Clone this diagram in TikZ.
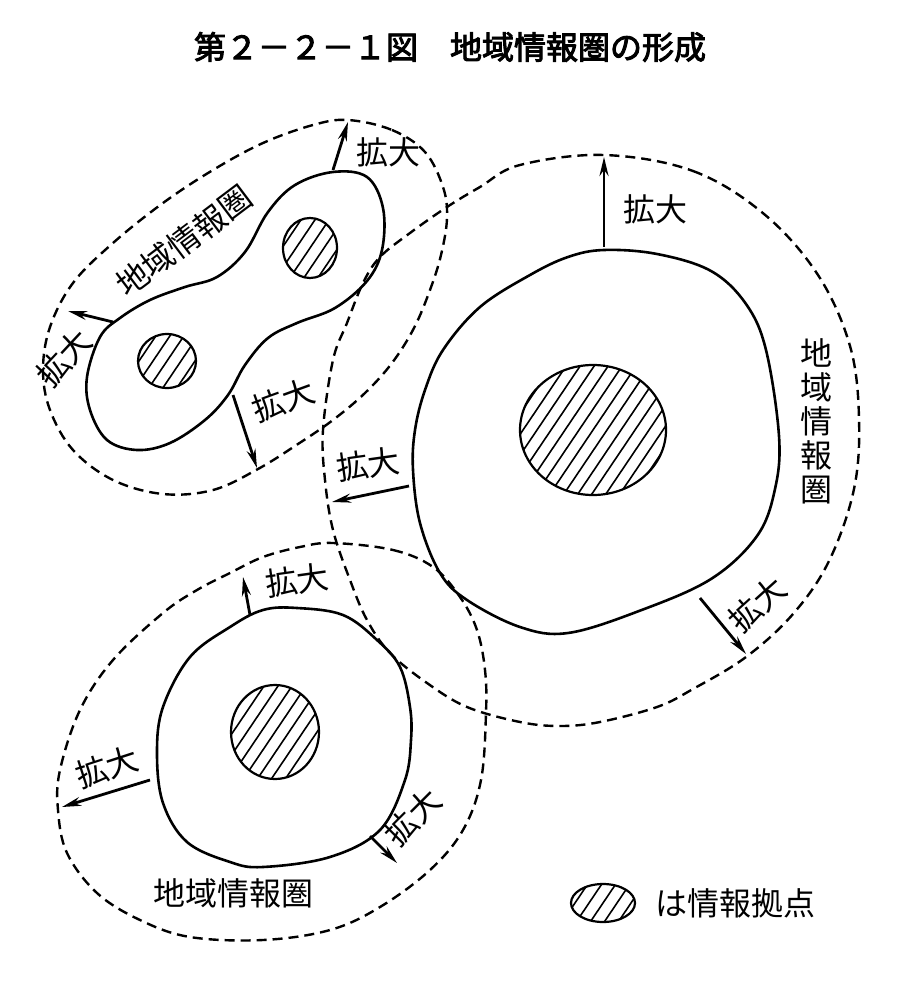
\documentclass[tikz,border=0pt]{standalone}
\usepackage{fontspec}
\setmainfont{Noto Sans CJK JP}
\newfontfamily\titlefont{Noto Sans CJK JP}[FakeBold=3]
\usepackage{tikz}
\usetikzlibrary{arrows.meta}
\tikzset{
zone/.style={
draw,
line width=2.6pt,
smooth cycle,
tension=0.6
},
reach/.style={
draw,
line width=2.4pt,
dash pattern=on 10pt off 6pt,
smooth cycle,
tension=0.6
},
spot/.style={
draw,
line width=2.2pt
},
hatch/.style={
line width=1.6pt
},
arrow/.style={
-{Stealth[length=19pt,width=9pt]},
line width=2.8pt
},
lbl/.style={
font=\fontsize{32}{34}\selectfont,
inner sep=0pt
},
headline/.style={
font=\titlefont\fontsize{32}{34}\selectfont,
inner sep=0pt
}
}

\begin{document}
\begin{tikzpicture}[x=1pt,y=-1pt]

\useasboundingbox[fill=white] (0,0) rectangle (911,981);

\node[headline](head) at (450,47){第２－２－１図　地域情報圏の形成};

% outer reach (dashed)
\draw[reach] plot coordinates {(348,120) (392,130) (425,152) (443,187) (447,218) (441,255) (430,290) (414,328) (392,363) (365,393) (333,420) (298,444) (258,469) (213,490) (163,494) (113,480) (73,450) (50,410) (43,370) (50,327) (73,283) (113,243) (163,203) (213,170) (263,143) (313,125)};

\draw[reach] plot coordinates {(604,155) (693,171) (764,214) (818,275) (850,346) (859,418) (854,489) (829,561) (793,614) (746,657) (693,689) (657,707) (600,722) (560,726) (520,722) (467,707) (427,683) (390,653) (367,620) (350,580) (333,530) (325,480) (323,430) (333,360) (347,323) (363,283) (380,257) (410,233) (447,207) (480,187) (520,165)};

\draw[reach] plot coordinates {(333,543) (393,550) (433,567) (460,597) (477,630) (485,670) (486,713) (481,780) (463,830) (430,870) (380,907) (330,930) (263,940) (190,937) (140,920) (97,893) (67,853) (58,810) (60,770) (80,710) (113,660) (163,613) (197,590) (230,573) (263,557) (300,547)};

% current zones (solid)
\draw[zone] plot coordinates {(333,172) (367,177) (383,208) (382,250) (367,281) (335,308) (297,323) (268,338) (245,365) (228,395) (205,420) (170,443) (137,450) (107,440) (90,410) (87,377) (100,337) (120,318) (150,300) (185,287) (217,277) (245,252) (268,212) (295,185)};

\draw[zone] plot coordinates {(604,250) (657,254) (711,271) (746,304) (766,350) (779,436) (775,489) (757,536) (711,579) (639,611) (568,633) (520,627) (467,600) (440,573) (420,523) (413,470) (415,430) (425,390) (443,350) (480,307) (530,275) (568,257)};

\draw[zone] plot coordinates {(263,610) (297,608) (343,615) (377,640) (400,667) (410,707) (411,740) (405,780) (380,830) (330,857) (263,867) (230,862) (187,842) (163,803) (157,753) (163,707) (190,657) (230,627)};

% hatched bases
\foreach \cx/\cy/\rx/\ry in {310/248/27/30,167/361/29/27,593/430/73/65,275/732/44/47,603/903/32/19}{
\begin{scope}
\clip (\cx,\cy) ellipse [x radius=\rx,y radius=\ry];
\foreach \k in {0,...,18}
\draw[hatch] ({\cx+14*\k-186},{\cy+89}) -- ++(120,-178);
\end{scope}
\draw[spot] (\cx,\cy) ellipse [x radius=\rx,y radius=\ry];
}

\draw[arrow] (333,170) -- (348,122);
\draw[arrow] (113,322) -- (68,311);
\draw[arrow] (233,395) -- (257,468);
\draw[arrow] (604,247) -- (604,157);
\draw[arrow] (409,486) -- (332,502);
\draw[arrow] (700,598) -- (746,654);
\draw[arrow] (250,615) -- (243,577);
\draw[arrow] (150,780) -- (62,807);
\draw[arrow] (370,836) -- (397,863);

\node[lbl](tlUp) at (388,152){拡大};
\node[lbl,rotate=47](tlLeft) at (64,358){拡大};
\node[lbl,rotate=20](tlDown) at (283,400){拡大};
\node[lbl](bigUp) at (655,209){拡大};
\node[lbl,rotate=8](bigLeft) at (368,464){拡大};
\node[lbl,rotate=42](bigDown) at (757,604){拡大};
\node[lbl,rotate=8](blUp) at (297,580){拡大};
\node[lbl,rotate=18](blLeft) at (107,767){拡大};
\node[lbl,rotate=45](blDown) at (413,817){拡大};

\node[lbl,rotate=37](tlName) at (184,241){地域情報圏};
\node[lbl,align=center](bigName) at (816,421){地\\域\\情\\報\\圏};
\node[lbl](blName) at (233,893){地域情報圏};

\node[lbl,anchor=west](key) at (655,903){は情報拠点};

\end{tikzpicture}
\end{document}
